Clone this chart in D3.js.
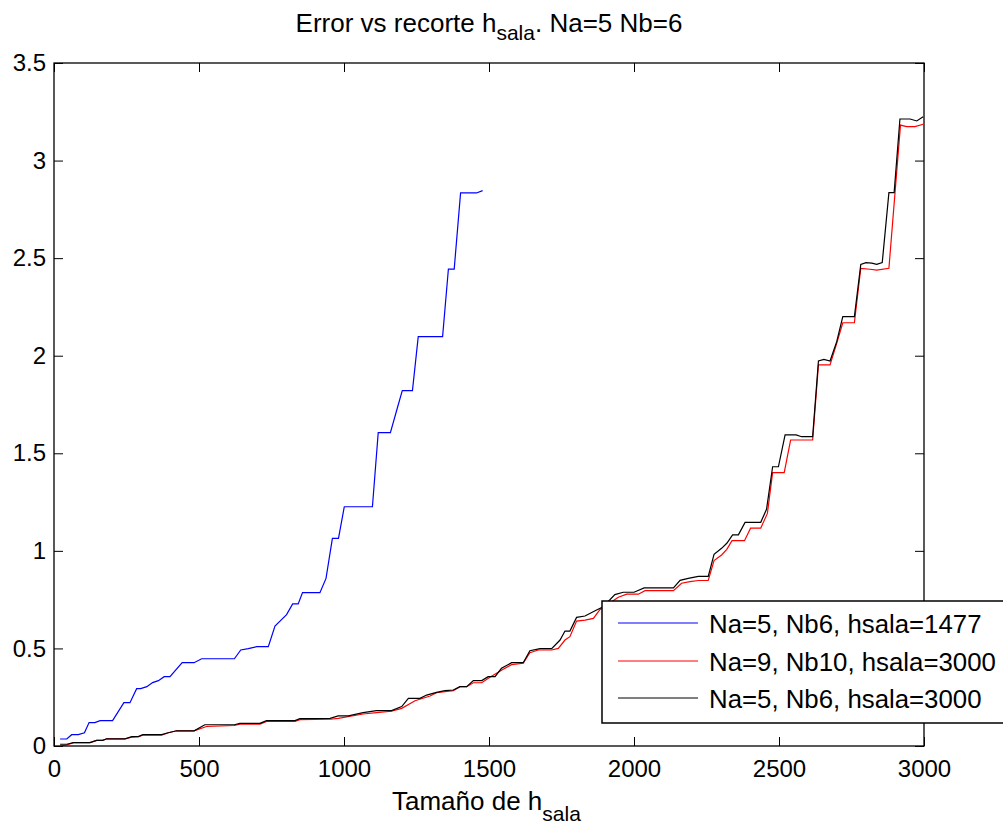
<!DOCTYPE html>
<html>
<head>
<meta charset="utf-8">
<script src="https://cdn.jsdelivr.net/npm/d3@7"></script>
<style>
  body { margin: 0; background: #fff; }
  svg text { font-family: "Liberation Sans", Arial, sans-serif; fill: #000; }
</style>
</head>
<body>
<div id="container"></div>
<script>

// data: hsala size vs error
var blue_x = [21, 44, 61, 84, 105, 121, 141, 159, 202, 241, 262, 285, 299, 320, 340, 360, 380, 400, 442, 483, 509, 622, 644, 670, 699, 739, 762, 802, 823, 842, 857, 917, 938, 960, 981, 1001, 1098, 1118, 1160, 1182, 1201, 1236, 1256, 1340, 1360, 1380, 1402, 1457, 1478];
var blue_y = [0.036, 0.036, 0.058, 0.058, 0.068, 0.12, 0.12, 0.13, 0.13, 0.222, 0.222, 0.294, 0.294, 0.304, 0.325, 0.335, 0.355, 0.355, 0.427, 0.427, 0.447, 0.447, 0.492, 0.499, 0.509, 0.509, 0.615, 0.673, 0.728, 0.728, 0.786, 0.786, 0.859, 1.064, 1.064, 1.226, 1.226, 1.606, 1.606, 1.722, 1.821, 1.821, 2.098, 2.098, 2.444, 2.444, 2.834, 2.834, 2.846];

var red_x = [21, 44, 67, 124, 147, 168, 182, 245, 268, 291, 306, 371, 394, 423, 483, 526, 622, 641, 710, 733, 831, 848, 952, 980, 1066, 1112, 1164, 1199, 1245, 1297, 1319, 1377, 1400, 1423, 1446, 1475, 1503, 1549, 1578, 1618, 1641, 1670, 1716, 1739, 1762, 1779, 1802, 1831, 1860, 1883, 1946, 1975, 2015, 2038, 2136, 2164, 2193, 2222, 2256, 2276, 2302, 2320, 2338, 2381, 2402, 2437, 2460, 2478, 2518, 2540, 2616, 2636, 2676, 2699, 2720, 2760, 2782, 2814, 2837, 2879, 2919, 2940, 2969, 2997];
var red_y = [0.0, 0.005, 0.017, 0.017, 0.029, 0.029, 0.037, 0.037, 0.045, 0.048, 0.055, 0.055, 0.068, 0.078, 0.078, 0.1, 0.105, 0.112, 0.112, 0.126, 0.126, 0.135, 0.137, 0.142, 0.164, 0.171, 0.178, 0.193, 0.232, 0.256, 0.273, 0.284, 0.304, 0.304, 0.324, 0.324, 0.352, 0.393, 0.417, 0.424, 0.478, 0.492, 0.492, 0.5, 0.543, 0.56, 0.64, 0.645, 0.654, 0.7, 0.762, 0.778, 0.778, 0.796, 0.796, 0.834, 0.842, 0.848, 0.848, 0.95, 0.979, 1.008, 1.052, 1.052, 1.116, 1.116, 1.192, 1.401, 1.401, 1.568, 1.568, 1.953, 1.953, 2.063, 2.169, 2.169, 2.448, 2.443, 2.439, 2.448, 3.182, 3.174, 3.174, 3.186];

var black_x = [21, 44, 67, 124, 147, 168, 182, 245, 268, 291, 306, 371, 394, 423, 483, 520, 622, 641, 710, 733, 831, 848, 952, 980, 1015, 1066, 1112, 1164, 1199, 1222, 1262, 1285, 1319, 1348, 1377, 1400, 1423, 1446, 1475, 1497, 1521, 1543, 1578, 1618, 1641, 1676, 1716, 1745, 1762, 1779, 1802, 1831, 1871, 1894, 1934, 1963, 2000, 2035, 2136, 2159, 2187, 2222, 2256, 2276, 2302, 2320, 2340, 2360, 2383, 2437, 2457, 2478, 2498, 2521, 2559, 2578, 2616, 2636, 2655, 2676, 2699, 2720, 2760, 2782, 2800, 2820, 2837, 2856, 2879, 2897, 2917, 2952, 2975, 2997];
var black_y = [0.009, 0.009, 0.017, 0.017, 0.029, 0.029, 0.037, 0.037, 0.048, 0.048, 0.058, 0.058, 0.068, 0.078, 0.078, 0.109, 0.109, 0.116, 0.116, 0.13, 0.13, 0.14, 0.142, 0.154, 0.154, 0.171, 0.181, 0.181, 0.202, 0.244, 0.244, 0.261, 0.275, 0.284, 0.287, 0.304, 0.304, 0.335, 0.335, 0.355, 0.355, 0.398, 0.427, 0.427, 0.488, 0.499, 0.499, 0.543, 0.589, 0.589, 0.659, 0.666, 0.697, 0.714, 0.776, 0.788, 0.788, 0.81, 0.81, 0.849, 0.859, 0.869, 0.869, 0.982, 1.013, 1.039, 1.082, 1.082, 1.146, 1.146, 1.213, 1.431, 1.431, 1.594, 1.594, 1.585, 1.585, 1.973, 1.981, 1.973, 2.072, 2.2, 2.2, 2.468, 2.477, 2.474, 2.468, 2.477, 2.836, 2.836, 3.213, 3.213, 3.203, 3.225];

var x_ticks = [0, 500, 1000, 1500, 2000, 2500, 3000];
var y_ticks = [0, 0.5, 1, 1.5, 2, 2.5, 3, 3.5];
var y_tick_labels = ["0", "0.5", "1", "1.5", "2", "2.5", "3", "3.5"];

var series_names = ["Na=5, Nb6, hsala=1477", "Na=9, Nb10, hsala=3000", "Na=5, Nb6, hsala=3000"];
var series_colors = ["#0000ff", "#ff0000", "#000000"];

var width = 1003, height = 825;
var plot_left = 54, plot_right = 924, plot_top = 63, plot_bottom = 746;

var svg = d3.select("div#container")
  .append("svg")
  .attr("width", width)
  .attr("height", height);

var x = d3.scaleLinear().domain([0, 3000]).range([plot_left, plot_right]);
var y = d3.scaleLinear().domain([0, 3.5]).range([plot_bottom, plot_top]);

// axes with ticks on all four sides, pointing inward
var tick_len = 9;

var ax_bottom = svg.append("g").attr("transform", "translate(0," + plot_bottom + ")")
  .call(d3.axisBottom(x).tickValues(x_ticks).tickSizeInner(-tick_len).tickSizeOuter(0).tickPadding(14).tickFormat(d3.format("d")));
var ax_left = svg.append("g").attr("transform", "translate(" + plot_left + ",0)")
  .call(d3.axisLeft(y).tickValues(y_ticks).tickSizeInner(-tick_len).tickSizeOuter(0).tickPadding(8)
    .tickFormat(function(d, i) { return y_tick_labels[i]; }));
var ax_top = svg.append("g").attr("transform", "translate(0," + plot_top + ")")
  .call(d3.axisTop(x).tickValues(x_ticks).tickSizeInner(-tick_len).tickSizeOuter(0).tickFormat(""));
var ax_right = svg.append("g").attr("transform", "translate(" + plot_right + ",0)")
  .call(d3.axisRight(y).tickValues(y_ticks).tickSizeInner(-tick_len).tickSizeOuter(0).tickFormat(""));

[ax_bottom, ax_left, ax_top, ax_right].forEach(function(ax) {
  ax.select(".domain").remove();
  ax.selectAll(".tick line").attr("stroke", "#000").attr("stroke-width", 1);
  ax.selectAll(".tick text").style("font-size", "24px").attr("fill", "#000");
});

// data lines
var line = d3.line().x(function(d) { return x(d[0]); }).y(function(d) { return y(d[1]); });

var all_series = [
  d3.zip(blue_x, blue_y),
  d3.zip(red_x, red_y),
  d3.zip(black_x, black_y)
];

all_series.forEach(function(s, i) {
  svg.append("path")
    .datum(s)
    .attr("d", line)
    .attr("fill", "none")
    .attr("stroke", series_colors[i])
    .attr("stroke-width", 1.2);
});

// box round the plot
svg.append("rect")
  .attr("x", plot_left).attr("y", plot_top)
  .attr("width", plot_right - plot_left).attr("height", plot_bottom - plot_top)
  .attr("fill", "none").attr("stroke", "#000").attr("stroke-width", 1.3);

// title with subscript, centred over the plot
var title = svg.append("text")
  .attr("x", (plot_left + plot_right) / 2).attr("y", 32)
  .attr("text-anchor", "middle")
  .style("font-size", "26px");
title.append("tspan").text("Error vs recorte h");
title.append("tspan").attr("dy", 8).style("font-size", "21px").text("sala");
title.append("tspan").attr("dy", -8).text(". Na=5 Nb=6");

// x label
var xlab = svg.append("text").attr("x", 392).attr("y", 810).style("font-size", "26px");
xlab.append("tspan").text("Tamaño de h");
xlab.append("tspan").attr("dy", 11).style("font-size", "21px").text("sala");

// legend
var leg = svg.append("g");
leg.append("rect")
  .attr("x", 602).attr("y", 601).attr("width", 420).attr("height", 122)
  .attr("fill", "#fff").attr("stroke", "#000").attr("stroke-width", 1.5);

var leg_rows = [623, 661, 698];
series_names.forEach(function(name, i) {
  leg.append("line")
    .attr("x1", 618).attr("x2", 698)
    .attr("y1", leg_rows[i]).attr("y2", leg_rows[i])
    .attr("stroke", series_colors[i]).attr("stroke-width", 1.2);
  leg.append("text")
    .attr("x", 709).attr("y", leg_rows[i] + 9.5)
    .style("font-size", "25.8px")
    .text(name);
});

</script>
</body>
</html>
